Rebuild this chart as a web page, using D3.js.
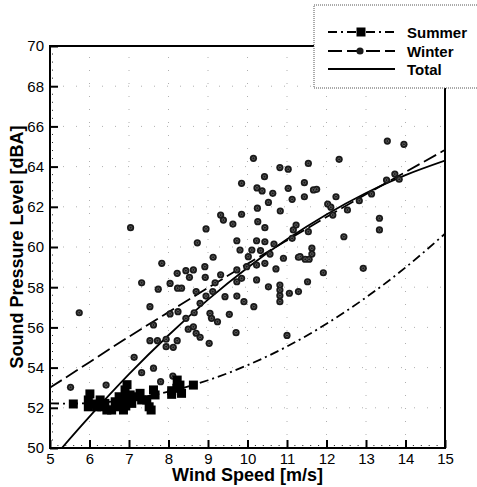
<!DOCTYPE html>
<html>
<head>
<meta charset="utf-8">
<script src="https://cdn.jsdelivr.net/npm/d3@7"></script>
<style>
    body { margin: 0; background: #fff; }
    svg { display: block; font-family: "Liberation Sans", Arial, sans-serif; }
</style>
</head>
<body>
<div id="chart"></div>
<script>
// Scatter data: [wind speed, dBA]
const summerPoints = [
    [5.59,52.19],[6.01,52.69],[5.97,52.39],[5.97,52.05],[6.10,52.19],[6.18,52.05],
    [6.27,52.39],[6.31,52.05],[6.39,52.22],[6.44,51.89],[6.56,51.89],[6.69,52.05],
    [6.65,52.30],[6.75,52.55],[6.82,52.22],[6.86,51.89],[6.90,52.89],[6.94,52.47],
    [6.92,52.09],[7.03,52.64],[7.15,52.55],[7.07,52.22],[7.28,52.72],[7.32,52.39],
    [7.45,52.39],[7.51,52.05],[7.56,51.89],[7.62,52.89],[7.66,52.64],[8.08,52.85],
    [8.21,52.97],[8.22,53.38],[8.29,53.13],[8.33,52.72],[8.08,52.67],[8.63,53.13],
    [6.95,53.15]
];

const winterPoints = [
    [10.15,64.41],[10.82,63.95],[11.03,63.87],[10.43,63.50],[9.85,63.17],[10.24,62.94],
    [10.37,62.79],[11.03,62.92],[10.64,62.67],[10.53,62.22],[11.13,62.37],[10.25,61.93],
    [10.83,61.79],[9.85,61.63],[9.32,61.59],[9.39,61.34],[9.63,61.14],[10.26,61.26],
    [10.44,60.96],[8.95,60.90],[11.16,60.85],[11.13,60.43],[7.04,60.96],[9.73,60.31],
    [10.23,60.31],[10.44,60.26],[8.73,60.21],[10.67,60.15],[9.81,59.85],[10.11,59.85],
    [10.33,59.82],[10.57,59.65],[9.13,59.49],[10.02,59.52],[10.91,59.44],[11.29,59.49],
    [7.83,59.19],[8.92,59.02],[9.98,59.02],[10.23,59.10],[10.44,59.19],[9.73,58.86],
    [8.22,58.69],[8.44,58.82],[8.63,58.86],[8.53,58.49],[8.93,58.49],[9.32,58.62],
    [9.85,58.44],[10.23,58.36],[10.72,58.91],[7.32,58.22],[8.04,58.19],[8.23,57.95],
    [8.33,57.95],[7.74,57.90],[9.18,58.22],[9.73,58.27],[10.53,58.02],[10.82,58.11],
    [10.82,57.86],[10.82,57.58],[10.82,57.28],[11.06,57.70],[11.29,57.78],[8.70,57.78],
    [8.95,57.56],[9.12,57.78],[9.43,57.53],[9.73,57.56],[9.91,57.28],[10.16,57.03],
    [7.53,57.03],[8.04,56.67],[8.24,56.78],[8.44,56.45],[8.65,56.73],[9.05,56.70],
    [9.54,56.65],[9.24,56.28],[7.62,56.12],[8.63,56.03],
    [13.54,65.27],[13.96,65.11],[12.32,64.36],[11.54,64.16],[11.44,63.20],[11.67,62.84],
    [11.75,62.87],[11.44,62.50],[12.24,62.50],[12.03,62.14],[12.11,61.98],[12.16,61.59],
    [12.53,61.84],[12.83,62.30],[13.14,62.64],[13.52,63.33],[13.73,63.63],[13.84,63.37],
    [11.23,61.09],[11.54,60.76],[11.63,59.94],[11.63,59.65],[11.33,59.52],[11.46,59.39],
    [11.56,59.39],[12.44,60.51],[13.34,61.43],[13.34,60.85],[11.92,58.72],[11.52,58.27],
    [12.93,58.94],
    [5.74,56.73],[8.80,57.20],[9.09,56.45],[8.70,55.71],[8.80,55.51],[8.50,55.91],
    [9.71,55.74],[7.53,55.34],[7.72,55.34],[7.94,55.41],[7.94,55.04],[8.12,55.01],
    [8.22,55.34],[9.03,55.21],[7.13,54.51],[7.32,53.75],[7.62,53.97],[7.80,53.30],
    [8.11,53.58],[6.42,53.13],[5.52,53.02],[11.00,55.60]
];

// Fitted curves, values read at whole wind speeds
const fitX = [5, 6, 7, 8, 9, 10, 11, 12, 13, 14, 15];
const summerFit = [52.22, 52.23, 52.42, 52.80, 53.37, 54.12, 55.05, 56.18, 57.49, 58.98, 60.66];
const winterFit = [53.00, 54.27, 55.54, 56.76, 57.97, 59.16, 60.33, 61.49, 62.62, 63.73, 64.83];
const totalFitX = [5.3, 6, 7, 8, 9, 10, 11, 12, 13, 14, 15];
const totalFit = [50.00, 51.56, 53.67, 55.61, 57.38, 58.97, 60.38, 61.62, 62.69, 63.58, 64.30];

const xTicks = [5, 6, 7, 8, 9, 10, 11, 12, 13, 14, 15];
const yTicks = [50, 52, 54, 56, 58, 60, 62, 64, 66, 68, 70];

const legendNames = ["Summer", "Winter", "Total"];

const width = 477, height = 487;
const plotLeft = 50, plotRight = 445, plotTop = 46, plotBottom = 448;

const svg = d3.select("#chart")
    .append("svg")
    .attr("width", width)
    .attr("height", height);

const x = d3.scaleLinear().domain([5, 15]).range([plotLeft, plotRight]);
const y = d3.scaleLinear().domain([50, 70]).range([plotBottom, plotTop]);

svg.append("clipPath").attr("id", "plotClip")
    .append("rect")
    .attr("x", plotLeft).attr("y", plotTop)
    .attr("width", plotRight - plotLeft).attr("height", plotBottom - plotTop);

// faint dotted grid
const grid = svg.append("g").attr("stroke", "#b0b0b0").attr("stroke-width", 1)
    .attr("stroke-dasharray", "1,12");
grid.selectAll(".gx").data(xTicks.slice(1, -1)).join("line")
    .attr("x1", d => x(d)).attr("x2", d => x(d))
    .attr("y1", plotBottom).attr("y2", plotTop);
grid.selectAll(".gy").data(yTicks.slice(1, -1)).join("line")
    .attr("y1", d => y(d)).attr("y2", d => y(d))
    .attr("x1", plotLeft).attr("x2", plotRight);

// axes with inward ticks
const xMinor = d3.range(5, 15.001, 0.2).filter(v => Math.abs(v - Math.round(v)) > 0.01);
const yMinor = d3.range(50, 70.001, 0.4).filter(v => Math.abs(v / 2 - Math.round(v / 2)) > 0.01);

const xAxis = svg.append("g").attr("transform", `translate(0,${plotBottom})`)
    .call(d3.axisBottom(x).tickValues(xTicks).tickSize(-8).tickPadding(5).tickFormat(d3.format("d")));
const yAxis = svg.append("g").attr("transform", `translate(${plotLeft},0)`)
    .call(d3.axisLeft(y).tickValues(yTicks).tickSize(-8).tickPadding(6).tickFormat(d3.format("d")));

[xAxis, yAxis].forEach(a => {
    a.select(".domain").remove();
    a.selectAll(".tick line").attr("stroke", "#000").attr("stroke-width", 2);
    a.selectAll(".tick text")
        .attr("fill", "#000")
        .style("font-size", "15px")
        .style("font-family", "'Liberation Sans', Arial, sans-serif");
});

svg.append("g").attr("stroke", "#222").attr("stroke-width", 1).attr("stroke-dasharray", "1,1")
    .selectAll("line").data(xMinor).join("line")
    .attr("x1", d => x(d)).attr("x2", d => x(d))
    .attr("y1", plotBottom).attr("y2", plotBottom - 4);
svg.append("g").attr("stroke", "#222").attr("stroke-width", 1).attr("stroke-dasharray", "1,1")
    .selectAll("line").data(yMinor).join("line")
    .attr("y1", d => y(d)).attr("y2", d => y(d))
    .attr("x1", plotLeft).attr("x2", plotLeft + 4);

// plot frame
svg.append("rect")
    .attr("x", plotLeft).attr("y", plotTop)
    .attr("width", plotRight - plotLeft).attr("height", plotBottom - plotTop)
    .attr("fill", "none").attr("stroke", "#000").attr("stroke-width", 2);

// fitted curves
const plot = svg.append("g").attr("clip-path", "url(#plotClip)");
const line = d3.line().x(d => x(d[0])).y(d => y(d[1])).curve(d3.curveNatural);

plot.append("path")
    .datum(fitX.map((v, i) => [v, summerFit[i]]))
    .attr("d", line).attr("fill", "none").attr("stroke", "#000")
    .attr("stroke-width", 1.8).attr("stroke-dasharray", "9,4,2,4");
plot.append("path")
    .datum(fitX.map((v, i) => [v, winterFit[i]]))
    .attr("d", line).attr("fill", "none").attr("stroke", "#000")
    .attr("stroke-width", 1.8).attr("stroke-dasharray", "14,5");
plot.append("path")
    .datum(totalFitX.map((v, i) => [v, totalFit[i]]))
    .attr("d", line).attr("fill", "none").attr("stroke", "#000")
    .attr("stroke-width", 1.8);

// scatter
plot.append("g").selectAll("circle").data(winterPoints).join("circle")
    .attr("cx", d => x(d[0])).attr("cy", d => y(d[1]))
    .attr("r", 3.6).attr("fill", "#1a1a1a");
plot.append("g").selectAll("circle").data(winterPoints).join("circle")
    .attr("cx", d => x(d[0])).attr("cy", d => y(d[1]))
    .attr("r", 1.4).attr("fill", "none").attr("stroke", "#6a6a6a").attr("stroke-width", 0.8);
plot.append("g").selectAll("rect").data(summerPoints).join("rect")
    .attr("x", d => x(d[0]) - 4.5).attr("y", d => y(d[1]) - 4.5)
    .attr("width", 9).attr("height", 9).attr("fill", "#000");

// axis titles
svg.append("text")
    .attr("x", (plotLeft + plotRight) / 2).attr("y", 481)
    .attr("text-anchor", "middle")
    .style("font-size", "18px").style("font-weight", "bold")
    .text("Wind Speed [m/s]");
svg.append("text")
    .attr("transform", `translate(23,${(plotTop + plotBottom) / 2}) rotate(-90)`)
    .attr("text-anchor", "middle")
    .style("font-size", "18px").style("font-weight", "bold")
    .text("Sound Pressure Level [dBA]");

// legend box
const legend = svg.append("g");
legend.append("rect")
    .attr("x", 314).attr("y", 5).attr("width", 170).attr("height", 83)
    .attr("fill", "#fff").attr("stroke", "#555").attr("stroke-width", 1)
    .attr("stroke-dasharray", "1,1");

const legendRows = [32, 51, 69];
const legendDash = ["9,4,2,4", "14,5", null];
legendNames.forEach((name, i) => {
    const ly = legendRows[i];
    legend.append("line")
        .attr("x1", 328).attr("x2", 395).attr("y1", ly).attr("y2", ly)
        .attr("stroke", "#000").attr("stroke-width", 1.8)
        .attr("stroke-dasharray", legendDash[i]);
    legend.append("text")
        .attr("x", 407).attr("y", ly + 5.5)
        .style("font-size", "15px").style("font-weight", "bold")
        .text(name);
});
legend.append("rect").attr("x", 356.5).attr("y", legendRows[0] - 4.5)
    .attr("width", 9).attr("height", 9).attr("fill", "#000");
legend.append("circle").attr("cx", 360).attr("cy", legendRows[1]).attr("r", 3.6).attr("fill", "#1a1a1a");
</script>
</body>
</html>
